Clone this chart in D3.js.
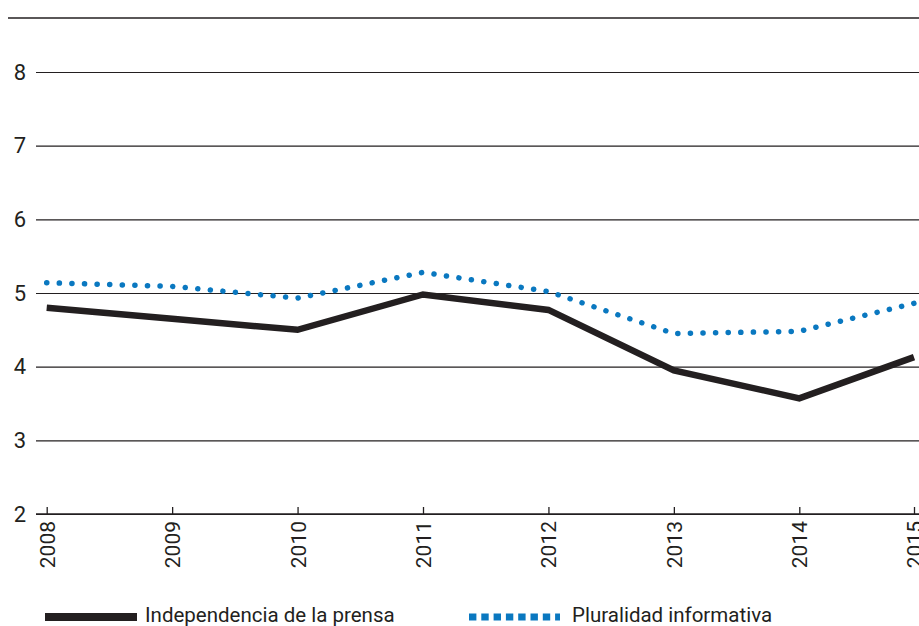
<!DOCTYPE html>
<html>
<head>
<meta charset="utf-8">
<script src="https://cdn.jsdelivr.net/npm/d3@7"></script>
<style>
body { margin: 0; background: #fff; }
text { font-family: Roboto, "Liberation Sans", sans-serif; fill: #231f20; }
</style>
</head>
<body>
<svg id="mainsvg" width="919" height="626"></svg>
<script>
let svg = d3.select('#mainsvg');

// data
const years = [2008, 2009, 2010, 2011, 2012, 2013, 2014, 2015];
const independencia = [4.80, 4.65, 4.50, 4.98, 4.77, 3.95, 3.57, 4.13];
const pluralidad = [5.14, 5.09, 4.93, 5.28, 5.02, 4.45, 4.48, 4.86];
const yTicks = [2, 3, 4, 5, 6, 7, 8];
const seriesNames = ['Independencia de la prensa', 'Pluralidad informativa'];

const black = '#231f20', blue = '#0a78c0';

// last interval is a bit shorter in the original (chart cropped on the right)
const x = d3.scaleLinear().domain([2008, 2014, 2015]).range([46.7, 799.3, 914]);
const y = d3.scaleLinear().domain([2, 8]).range([514, 72]);

// top frame line
svg.append('line')
.attr('x1', 8).attr('x2', 919)
.attr('y1', 18).attr('y2', 18)
.attr('stroke', black).attr('stroke-width', 1.6);

// grid + y labels
const yAxis = d3.axisLeft(y).tickValues(yTicks).tickFormat(d3.format('d')).tickSize(0).tickPadding(10);
let gy = svg.append('g').attr('transform', 'translate(36,0)').call(yAxis);
gy.select('.domain').remove();
gy.selectAll('.tick line')
.attr('x2', 919 - 36)
.attr('stroke', black)
.attr('stroke-width', 1.2);
gy.selectAll('.tick text')
.attr('font-size', 22)
.attr('font-family', 'Roboto, sans-serif')
.attr('fill', black);

// x axis with inside ticks
const xAxis = d3.axisBottom(x).tickValues(years).tickFormat(d3.format('d')).tickSizeInner(-7).tickSizeOuter(0);
let gx = svg.append('g').attr('transform', `translate(0,${y(2)})`).call(xAxis);
gx.select('.domain').remove();
gx.append('line')
.attr('x1', 36).attr('x2', 919)
.attr('stroke', black).attr('stroke-width', 1.5);
gx.selectAll('.tick line').attr('stroke', black).attr('stroke-width', 1.3);
gx.selectAll('.tick text')
.attr('font-size', 21)
.attr('font-family', 'Roboto, sans-serif')
.attr('fill', black)
.attr('text-anchor', 'end')
.attr('transform', 'translate(0,7) rotate(-90)')
.attr('x', 0).attr('y', 0).attr('dy', '0.36em');

const line = d3.line()
.x((d, i) => x(years[i]))
.y(d => y(d));

svg.append('path')
.datum(independencia)
.attr('d', line)
.attr('fill', 'none')
.attr('stroke', black)
.attr('stroke-width', 6.5)
.attr('stroke-linejoin', 'miter');

svg.append('path')
.datum(pluralidad)
.attr('d', line)
.attr('fill', 'none')
.attr('stroke', blue)
.attr('stroke-width', 5.5)
.attr('stroke-linecap', 'round')
.attr('stroke-dasharray', '0.1 12.5');

// legend
let lg = svg.append('g');
lg.append('line')
.attr('x1', 45).attr('x2', 137).attr('y1', 617).attr('y2', 617)
.attr('stroke', black).attr('stroke-width', 8);
lg.append('text')
.attr('x', 145).attr('y', 622)
.attr('font-size', 20.5)
.text(seriesNames[0]);
lg.append('line')
.attr('x1', 469).attr('x2', 560).attr('y1', 617).attr('y2', 617)
.attr('stroke', blue).attr('stroke-width', 7)
.attr('stroke-dasharray', '7.4 4.9');
lg.append('text')
.attr('x', 572).attr('y', 622)
.attr('font-size', 20.5)
.text(seriesNames[1]);
</script>
</body>
</html>
